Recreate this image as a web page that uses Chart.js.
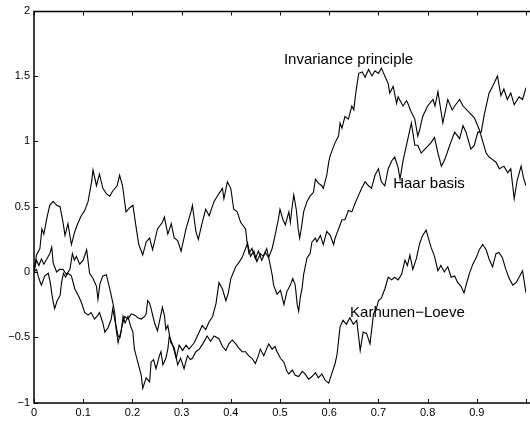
<!DOCTYPE html>
<html>
<head>
<meta charset="utf-8">
<script src="https://cdn.jsdelivr.net/npm/chart.js@4/dist/chart.umd.min.js"></script>
<style>
html,body{margin:0;padding:0;background:#fff;}
#c{display:block;}
</style>
</head>
<body>
<canvas id="c" width="530" height="421"></canvas>
<script>
// x tick values and y tick values
const xTicks = [0,0.1,0.2,0.3,0.4,0.5,0.6,0.7,0.8,0.9,1];
const yTicks = [-1,-0.5,0,0.5,1,1.5,2];

// series: [t, value]
const haarBasis = [[0,0],[.005,.13],[.012,.18],[.016,.33],[.02,.29],[.026,.41],[.032,.51],[.039,.54],[.046,.51],[.053,.50],[.059,.38],[.063,.28],[.069,.37],[.076,.21],[.083,.31],[.09,.38],[.096,.43],[.103,.47],[.11,.54],[.117,.69],[.12,.78],[.127,.66],[.133,.75],[.14,.64],[.147,.60],[.154,.58],[.16,.62],[.169,.66],[.174,.74],[.18,.66],[.187,.46],[.194,.49],[.201,.51],[.208,.33],[.213,.21],[.221,.13],[.228,.23],[.235,.26],[.241,.17],[.251,.33],[.261,.38],[.265,.42],[.272,.29],[.279,.37],[.285,.26],[.292,.24],[.299,.16],[.309,.33],[.319,.46],[.322,.51],[.329,.31],[.334,.25],[.342,.38],[.349,.48],[.356,.43],[.366,.54],[.376,.60],[.383,.64],[.386,.56],[.393,.69],[.400,.64],[.406,.48],[.413,.46],[.420,.38],[.430,.33],[.433,.23],[.437,.14],[.443,.18],[.45,.10],[.456,.16],[.463,.09],[.47,.15],[.477,.11],[.484,-.02],[.487,-.10],[.494,-.17],[.501,-.14],[.508,-.25],[.514,-.15],[.521,-.10],[.526,-.05],[.531,-.10],[.535,-.25],[.538,-.30],[.541,-.20],[.545,-.12],[.548,-.02],[.555,.11],[.561,.14],[.565,.23],[.572,.26],[.575,.23],[.582,.28],[.588,.21],[.595,.31],[.602,.28],[.609,.21],[.612,.26],[.619,.33],[.622,.36],[.626,.40],[.632,.40],[.639,.47],[.646,.46],[.653,.53],[.66,.59],[.666,.64],[.673,.69],[.68,.66],[.686,.64],[.693,.74],[.70,.79],[.706,.69],[.713,.66],[.72,.79],[.727,.85],[.733,.88],[.74,.80],[.744,.71],[.75,.85],[.76,1.02],[.767,1.14],[.774,.97],[.78,.97],[.787,.91],[.797,.95],[.807,.99],[.814,1.03],[.821,.91],[.828,.81],[.835,.86],[.845,.97],[.855,1.07],[.865,1.02],[.872,1.12],[.878,1.07],[.888,.94],[.895,.97],[.902,1.07],[.909,1.07],[.915,1.20],[.925,1.37],[.932,1.42],[.942,1.50],[.949,1.35],[.955,1.40],[.962,1.32],[.969,1.37],[.976,1.28],[.986,1.34],[.993,1.32],[1,1.41]];

const invariancePrinciple = [[0,0],[.005,.09],[.01,.05],[.015,.10],[.02,.06],[.026,.10],[.032,.14],[.036,.19],[.039,.07],[.046,.00],[.052,.02],[.059,.02],[.066,-.02],[.073,.02],[.078,.14],[.082,.09],[.086,.12],[.093,.06],[.10,.09],[.107,.17],[.113,-.01],[.12,-.05],[.127,-.11],[.13,-.21],[.134,-.09],[.14,-.03],[.147,-.02],[.154,-.13],[.16,-.23],[.164,-.31],[.167,-.44],[.171,-.54],[.174,-.49],[.177,-.46],[.181,-.34],[.185,-.39],[.191,-.34],[.196,-.41],[.201,-.46],[.204,-.59],[.211,-.69],[.218,-.79],[.221,-.89],[.228,-.81],[.235,-.84],[.238,-.69],[.243,-.67],[.248,-.74],[.255,-.64],[.258,-.61],[.262,-.71],[.268,-.66],[.272,-.59],[.275,-.49],[.282,-.56],[.289,-.66],[.295,-.56],[.302,-.60],[.309,-.56],[.315,-.59],[.326,-.54],[.332,-.49],[.342,-.41],[.349,-.44],[.356,-.38],[.363,-.34],[.37,-.24],[.376,-.08],[.383,-.13],[.39,-.22],[.395,-.16],[.40,-.05],[.41,.04],[.416,.07],[.423,.11],[.43,.18],[.434,.22],[.44,.12],[.447,.16],[.453,.08],[.46,.14],[.466,.12],[.473,.18],[.477,.11],[.484,.18],[.49,.28],[.497,.41],[.50,.48],[.506,.40],[.511,.36],[.515,.42],[.518,.46],[.521,.38],[.524,.48],[.528,.59],[.533,.48],[.537,.33],[.54,.26],[.544,.35],[.548,.46],[.555,.54],[.561,.58],[.568,.61],[.572,.71],[.578,.68],[.585,.66],[.588,.64],[.595,.74],[.599,.84],[.602,.89],[.607,.94],[.612,.99],[.619,1.04],[.622,1.14],[.626,1.10],[.632,1.19],[.639,1.17],[.646,1.27],[.65,1.24],[.654,1.37],[.66,1.52],[.667,1.53],[.673,1.49],[.68,1.55],[.687,1.50],[.693,1.54],[.70,1.52],[.706,1.56],[.713,1.50],[.72,1.44],[.723,1.37],[.73,1.42],[.737,1.29],[.74,1.34],[.75,1.27],[.757,1.31],[.76,1.29],[.766,1.23],[.774,1.17],[.78,1.04],[.784,1.09],[.79,1.19],[.80,1.27],[.811,1.32],[.815,1.27],[.821,1.38],[.831,1.14],[.841,1.32],[.85,1.24],[.855,1.27],[.865,1.32],[.872,1.27],[.885,1.22],[.895,1.18],[.905,1.09],[.912,1.00],[.919,.91],[.925,.88],[.932,.86],[.939,.84],[.946,.79],[.955,.81],[.963,.76],[.969,.79],[.976,.56],[.982,.70],[.99,.81],[.995,.72],[1,.66]];

const karhunenLoeve = [[0,0],[.005,.02],[.01,-.05],[.015,-.10],[.022,-.03],[.029,-.01],[.033,-.08],[.036,-.16],[.039,-.23],[.042,-.28],[.047,-.22],[.053,-.18],[.056,-.08],[.06,-.01],[.064,-.04],[.069,-.01],[.076,-.03],[.083,-.13],[.09,-.18],[.096,-.23],[.103,-.31],[.11,-.33],[.116,-.31],[.123,-.36],[.13,-.33],[.133,-.31],[.14,-.39],[.144,-.46],[.15,-.43],[.157,-.36],[.16,-.28],[.166,-.40],[.171,-.49],[.175,-.50],[.178,-.43],[.184,-.34],[.191,-.36],[.198,-.32],[.205,-.33],[.211,-.35],[.218,-.36],[.225,-.34],[.228,-.32],[.231,-.22],[.235,-.24],[.238,-.28],[.245,-.39],[.251,-.45],[.256,-.36],[.261,-.27],[.265,-.33],[.268,-.44],[.272,-.41],[.278,-.54],[.285,-.58],[.292,-.71],[.298,-.66],[.305,-.74],[.312,-.64],[.318,-.67],[.322,-.66],[.329,-.61],[.336,-.59],[.343,-.55],[.352,-.49],[.359,-.53],[.366,-.49],[.376,-.51],[.383,-.57],[.39,-.60],[.396,-.55],[.403,-.52],[.41,-.55],[.416,-.58],[.423,-.61],[.43,-.61],[.436,-.64],[.443,-.66],[.45,-.70],[.456,-.64],[.46,-.59],[.467,-.64],[.477,-.55],[.484,-.59],[.49,-.57],[.494,-.61],[.501,-.66],[.508,-.69],[.514,-.76],[.518,-.78],[.525,-.75],[.531,-.79],[.538,-.80],[.545,-.76],[.551,-.78],[.558,-.82],[.565,-.80],[.572,-.77],[.578,-.81],[.585,-.78],[.592,-.83],[.599,-.85],[.605,-.78],[.612,-.70],[.616,-.63],[.622,-.42],[.628,-.37],[.635,-.40],[.642,-.35],[.649,-.40],[.656,-.37],[.663,-.60],[.669,-.46],[.676,-.47],[.683,-.55],[.69,-.32],[.696,-.28],[.70,-.22],[.706,-.20],[.713,-.13],[.72,-.04],[.727,-.06],[.733,-.04],[.74,-.06],[.747,-.02],[.754,.09],[.759,.05],[.764,.13],[.77,.02],[.777,.10],[.784,.22],[.79,.28],[.797,.32],[.80,.28],[.807,.19],[.814,.12],[.821,.01],[.827,.05],[.834,.00],[.841,.04],[.848,-.04],[.855,-.03],[.861,-.08],[.868,-.11],[.874,-.16],[.879,-.09],[.885,-.01],[.892,.06],[.899,.11],[.905,.17],[.912,.21],[.919,.17],[.925,.10],[.932,.04],[.939,.14],[.945,.15],[.952,.11],[.959,.02],[.966,-.05],[.973,-.10],[.98,-.08],[.986,-.04],[.993,.01],[1,-.16]];

// text annotations in data coordinates
const labels = [
  {text:'Invariance principle', x:0.508, y:1.62},
  {text:'Haar basis', x:0.730, y:0.674},
  {text:'Karhunen\u2212Loeve', x:0.6425, y:-0.311}
];

const FONT = '"Liberation Sans", Arial, Helvetica, sans-serif';

const toPts = arr => arr.map(p => ({x:p[0], y:p[1]}));

const matlabAxes = {
  id:'matlabAxes',
  afterDraw(chart){
    const {ctx, chartArea:a, scales:{x, y}} = chart;
    ctx.save();
    ctx.strokeStyle = '#000';
    ctx.lineWidth = 1.5;
    const L = Math.round(a.left), R = 531;
    const T = Math.round(a.top)+0.5, B = Math.round(a.bottom);
    ctx.beginPath();
    ctx.moveTo(R,T); ctx.lineTo(L,T); ctx.lineTo(L,B); ctx.lineTo(R,B);
    ctx.stroke();
    ctx.lineWidth = 1;
    const len = 4;
    ctx.beginPath();
    xTicks.forEach(v => {
      const px = Math.round(x.getPixelForValue(v))+0.5;
      ctx.moveTo(px,B); ctx.lineTo(px,B-len);
      ctx.moveTo(px,T); ctx.lineTo(px,T+len);
    });
    yTicks.forEach(v => {
      const py = Math.round(y.getPixelForValue(v))+0.5;
      ctx.moveTo(L,py); ctx.lineTo(L+len,py);
    });
    ctx.stroke();
    ctx.fillStyle = '#000';
    ctx.font = '15px ' + FONT;
    ctx.textAlign = 'left';
    ctx.textBaseline = 'middle';
    labels.forEach(l => {
      ctx.fillText(l.text, x.getPixelForValue(l.x), y.getPixelForValue(l.y));
    });
    ctx.restore();
  }
};

const lineDs = (label, arr) => ({
  label, data: toPts(arr), borderColor:'#000', borderWidth:1.1,
  pointRadius:0, tension:0, fill:false
});

new Chart(document.getElementById('c'), {
  type:'line',
  data:{ datasets:[
    lineDs('Haar basis', haarBasis),
    lineDs('Invariance principle', invariancePrinciple),
    lineDs('Karhunen-Loeve', karhunenLoeve)
  ]},
  options:{
    responsive:false, animation:false, devicePixelRatio:1,
    layout:{padding:{top:7, right:1, left:0, bottom:0}},
    plugins:{legend:{display:false}, tooltip:{enabled:false}},
    scales:{
      x:{
        type:'linear', min:0, max:1,
        afterBuildTicks: s => { s.ticks = xTicks.map(v => ({value:v})); },
        afterFit: s => { s.height = 18.3; },
        grid:{display:false, drawTicks:false}, border:{display:false},
        ticks:{
          autoSkip:false, maxRotation:0, padding:4, color:'#000',
          font:{family:FONT, size:11},
          callback: v => v === 1 ? '' : String(Math.round(v*10)/10)
        }
      },
      y:{
        type:'linear', min:-1, max:2,
        afterBuildTicks: s => { s.ticks = yTicks.map(v => ({value:v})); },
        afterFit: s => { s.width = 34; },
        grid:{display:false, drawTicks:false}, border:{display:false},
        ticks:{
          autoSkip:false, padding:4, color:'#000',
          font:{family:FONT, size:11},
          callback: v => (v < 0 ? '\u2212' : '') + String(Math.abs(v))
        }
      }
    }
  },
  plugins:[matlabAxes]
});
</script>
</body>
</html>
